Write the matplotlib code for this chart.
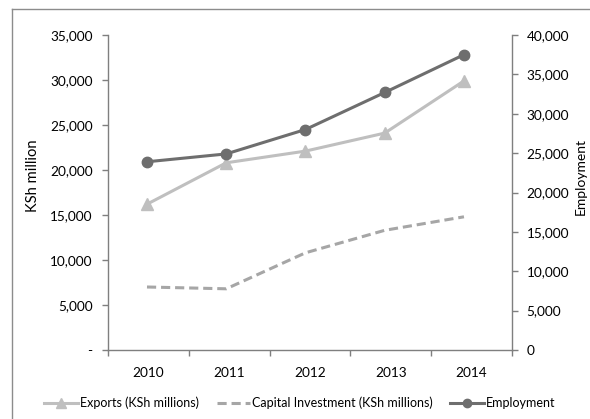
import matplotlib
matplotlib.use("Agg")
import matplotlib.pyplot as plt
from matplotlib.lines import Line2D
from matplotlib.ticker import FuncFormatter
import numpy as np

years = ["2010", "2011", "2012", "2013", "2014"]
exports = [16200, 20800, 22100, 24100, 29900]
capital = [7000, 6800, 10800, 13300, 14800]
employment = [23900, 24900, 28000, 32700, 37500]

left_ticks = [0, 5000, 10000, 15000, 20000, 25000, 30000, 35000]
right_ticks = [0, 5000, 10000, 15000, 20000, 25000, 30000, 35000, 40000]

plt.rcParams['font.family'] = ['Lato', 'DejaVu Sans']
FS = 9.8
LFS = 9
AX_COL = '#7f7f7f'
TXT = '#000000'

fig = plt.figure(figsize=(5.9, 4.19), dpi=100)
W, H = 590, 419
ax = fig.add_axes([108 / W, 1 - 350 / H, (512 - 108) / W, (350 - 35) / H])
ax2 = ax.twinx()

x = np.arange(len(years))
xlim = (-0.492, 4.606)

l1, = ax.plot(x, exports, color='#bfbfbf', lw=2.2, marker='^', ms=9,
              label='Exports (KSh millions)', zorder=3)
l2, = ax.plot(x, capital, color='#a6a6a6', lw=2.2, ls=(0, (3, 1.6)),
              label='Capital Investment (KSh millions)', zorder=3)
l3, = ax2.plot(x, employment, color='#6e6e6e', lw=2.2, marker='o', ms=7.5,
               label='Employment', zorder=3)

ax.set_xlim(*xlim)
ax.set_ylim(0, 35000)
ax2.set_ylim(0, 40000)

bounds = np.linspace(xlim[0], xlim[1], len(years) + 1)
mids = (bounds[:-1] + bounds[1:]) / 2
ax.set_xticks(bounds, minor=True)
ax.set_xticks(mids)
ax.set_xticklabels(years, fontsize=FS, color=TXT)
ax.tick_params(axis='x', which='major', length=0, pad=12)
ax.tick_params(axis='x', which='minor', length=4, width=1, color=AX_COL, direction='out')

ax.set_yticks(left_ticks)
ax.yaxis.set_major_formatter(FuncFormatter(lambda v, p: '-' if v == 0 else f'{int(v):,}'))
ax.tick_params(axis='y', length=4, width=1, color=AX_COL, labelsize=FS, labelcolor=TXT, pad=7)

ax2.set_yticks(right_ticks)
ax2.yaxis.set_major_formatter(FuncFormatter(lambda v, p: f'{int(v):,}'))
ax2.tick_params(axis='y', length=4, width=1, color=AX_COL, labelsize=FS, labelcolor=TXT, pad=6.5)

for a in (ax, ax2):
    a.spines['top'].set_visible(False)
    for s in ('left', 'right', 'bottom'):
        a.spines[s].set_color(AX_COL)
        a.spines[s].set_linewidth(1)
ax.spines['right'].set_visible(False)
ax2.spines['left'].set_visible(False)
ax2.spines['bottom'].set_visible(False)

ylab_frac = (350 - 176) / (350 - 35)
ax.set_ylabel('KSh million', fontsize=10.6, color=TXT, va='center')
ax.yaxis.set_label_coords(-(108 - 33) / (512 - 108), ylab_frac)
ax2.set_ylabel('Employment', fontsize=10, color=TXT, rotation=90, va='center')
ax2.yaxis.set_label_coords(1 + (581 - 512) / (512 - 108), ylab_frac)

fig.legend(handles=[l1, l2, l3], loc='center', bbox_to_anchor=(300 / W, 1 - 403 / H),
           ncol=3, frameon=False, fontsize=LFS, handlelength=2.7, handletextpad=0.15,
           columnspacing=1.4, markerscale=0.8)

fig.add_artist(Line2D([12 / W, 12 / W], [0, 1 - 9 / H], transform=fig.transFigure,
                      color='#8c8c8c', lw=1))
fig.add_artist(Line2D([12 / W, 1], [1 - 9 / H, 1 - 9 / H], transform=fig.transFigure,
                      color='#8c8c8c', lw=1))

fig.savefig('out.png', dpi=100)
